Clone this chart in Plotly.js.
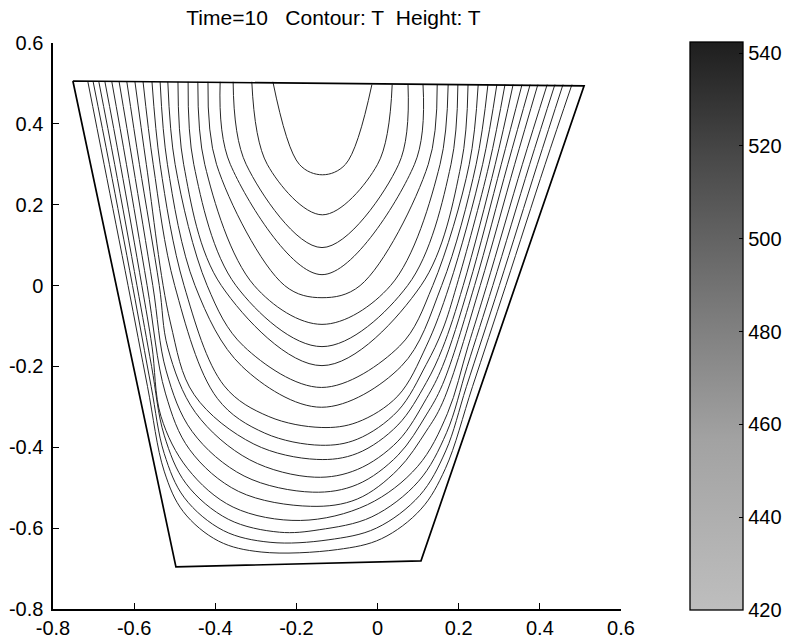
<!DOCTYPE html>
<html>
<head>
<meta charset="utf-8">
<script src="https://cdn.plot.ly/plotly-3.0.1.min.js"></script>
<style>html,body{margin:0;padding:0;background:#fff;}#chart{width:788px;height:643px;}</style>
</head>
<body>
<div id="chart"></div>
<script>
// Domain boundary (trapezoid)
const domainX = [-0.751, 0.509, 0.107, -0.497, -0.751];
const domainY = [0.506, 0.494, -0.681, -0.696, 0.506];

// Contour lines of T (20 levels), each read from the picture as a list of points
// running from the top-left crossing, round the bottom, to the top-right crossing.
const contourX = [
  [-0.258,-0.193,-0.136,-0.079,-0.014],
  [-0.310,-0.272,-0.136,0.000,0.036],
  [-0.356,-0.324,-0.137,0.052,0.075],
  [-0.388,-0.363,-0.137,0.091,0.112],
  [-0.418,-0.397,-0.229,-0.137,-0.043,0.125,0.147],
  [-0.443,-0.426,-0.304,-0.137,0.032,0.154,0.174],
  [-0.467,-0.453,-0.349,-0.137,0.074,0.181,0.198],
  [-0.492,-0.478,-0.385,-0.137,0.107,0.206,0.223],
  [-0.517,-0.499,-0.420,-0.330,-0.138,0.054,0.136,0.226,0.248],
  [-0.536,-0.518,-0.450,-0.334,-0.138,0.058,0.158,0.243,0.272],
  [-0.556,-0.536,-0.477,-0.378,-0.268,-0.139,-0.050,0.050,0.120,0.177,0.259,0.294],
  [-0.578,-0.553,-0.500,-0.395,-0.278,-0.140,-0.050,0.050,0.120,0.160,0.195,0.275,0.314],
  [-0.598,-0.570,-0.511,-0.452,-0.305,-0.150,-0.050,0.050,0.120,0.160,0.211,0.290,0.334],
  [-0.618,-0.587,-0.538,-0.517,-0.449,-0.315,-0.155,-0.050,0.050,0.120,0.160,0.225,0.305,0.356],
  [-0.637,-0.603,-0.554,-0.521,-0.457,-0.329,-0.160,-0.050,0.050,0.120,0.160,0.239,0.321,0.376],
  [-0.655,-0.619,-0.568,-0.523,-0.463,-0.343,-0.165,-0.050,0.050,0.120,0.160,0.253,0.338,0.395],
  [-0.672,-0.634,-0.581,-0.556,-0.534,-0.468,-0.356,-0.190,-0.025,0.099,0.172,0.223,0.269,0.357,0.418],
  [-0.687,-0.648,-0.593,-0.557,-0.526,-0.472,-0.368,-0.242,-0.144,-0.014,0.101,0.170,0.221,0.284,0.375,0.437],
  [-0.701,-0.661,-0.604,-0.558,-0.526,-0.476,-0.380,-0.265,-0.122,-0.003,0.104,0.168,0.219,0.300,0.394,0.457],
  [-0.714,-0.674,-0.615,-0.567,-0.526,-0.479,-0.392,-0.287,-0.099,0.010,0.107,0.167,0.234,0.316,0.413,0.479]
];
const contourY = [
  [0.504,0.3,0.274,0.3,0.497],
  [0.504,0.3,0.175,0.3,0.497],
  [0.504,0.3,0.094,0.3,0.497],
  [0.504,0.3,0.027,0.3,0.497],
  [0.504,0.3,0.0,-0.030,0.0,0.3,0.497],
  [0.504,0.3,0.0,-0.096,0.0,0.3,0.497],
  [0.504,0.3,0.0,-0.151,0.0,0.3,0.497],
  [0.504,0.3,0.0,-0.198,0.0,0.3,0.497],
  [0.504,0.3,0.0,-0.15,-0.252,-0.15,0.0,0.3,0.497],
  [0.504,0.3,0.0,-0.2,-0.301,-0.2,0.0,0.3,0.497],
  [0.504,0.3,0.0,-0.248,-0.324,-0.351,-0.338,-0.273,-0.15,0.0,0.3,0.497],
  [0.504,0.3,0.0,-0.279,-0.365,-0.395,-0.380,-0.310,-0.195,-0.11,0.0,0.3,0.497],
  [0.504,0.3,-0.09,-0.27,-0.392,-0.430,-0.415,-0.345,-0.24,-0.155,0.0,0.3,0.497],
  [0.504,0.3,0.0,-0.154,-0.314,-0.431,-0.474,-0.455,-0.385,-0.28,-0.2,0.0,0.3,0.497],
  [0.504,0.3,0.0,-0.211,-0.361,-0.471,-0.511,-0.492,-0.42,-0.32,-0.245,0.0,0.3,0.497],
  [0.504,0.3,0.0,-0.266,-0.406,-0.509,-0.546,-0.528,-0.455,-0.36,-0.29,0.0,0.3,0.497],
  [0.504,0.3,0.0,-0.15,-0.323,-0.453,-0.548,-0.581,-0.542,-0.447,-0.317,-0.15,0.0,0.3,0.497],
  [0.504,0.3,0.0,-0.2,-0.37,-0.49,-0.578,-0.610,-0.604,-0.572,-0.484,-0.364,-0.2,0.0,0.3,0.497],
  [0.504,0.3,0.0,-0.25,-0.415,-0.525,-0.606,-0.635,-0.629,-0.600,-0.519,-0.409,-0.25,0.0,0.3,0.497],
  [0.504,0.3,0.0,-0.25,-0.459,-0.559,-0.632,-0.659,-0.653,-0.626,-0.553,-0.453,-0.25,0.0,0.3,0.497]
];

// Colour bar
const cbMin = 420, cbMax = 542.4;
const cbTicks = [420, 440, 460, 480, 500, 520, 540];
const axisTicks = [-0.8, -0.6, -0.4, -0.2, 0, 0.2, 0.4, 0.6];
const axisTickText = ['-0.8', '-0.6', '-0.4', '-0.2', '0', '0.2', '0.4', '0.6'];

const traces = [];
for (let k = 0; k < contourX.length; k++) {
  traces.push({
    type: 'scatter', mode: 'lines', x: contourX[k], y: contourY[k],
    line: {color: '#262626', width: 1, shape: 'spline', smoothing: 1},
    hoverinfo: 'skip', showlegend: false
  });
}
traces.push({
  type: 'scatter', mode: 'lines', x: domainX, y: domainY,
  line: {color: '#000', width: 1.7}, hoverinfo: 'skip', showlegend: false
});
traces.push({
  type: 'scatter', mode: 'markers', x: [-0.13, -0.13], y: [0.5, 0.5],
  marker: {
    size: 1, opacity: 0, color: [cbMin, cbMax], cmin: cbMin, cmax: cbMax,
    colorscale: [[0, '#bebebe'], [0.3, '#a2a2a2'], [0.55, '#767676'], [0.8, '#484848'], [1, '#1e1e1e']],
    showscale: true,
    colorbar: {
      x: 690 / 788, xanchor: 'left', xref: 'container',
      y: 0.5, yanchor: 'middle', yref: 'paper', len: 1.004, lenmode: 'fraction',
      thickness: 53, thicknessmode: 'pixels',
      outlinecolor: '#000', outlinewidth: 1.3,
      tickmode: 'array', tickvals: cbTicks, ticktext: cbTicks.map(String),
      ticks: 'inside', ticklen: 4, tickcolor: '#000',
      tickfont: {family: 'Liberation Sans, Arial, sans-serif', size: 20, color: '#000'},
      xpad: 0, ypad: 0, bgcolor: 'rgba(0,0,0,0)'
    }
  },
  hoverinfo: 'skip', showlegend: false
});

const fontFam = 'Liberation Sans, Arial, sans-serif';
const axisCommon = {
  range: [-0.8, 0.6], tickmode: 'array', tickvals: axisTicks, ticktext: axisTickText,
  ticks: 'inside', ticklen: 6, tickcolor: '#000', tickwidth: 1.2,
  showline: true, linecolor: '#000', linewidth: 1.6, mirror: false,
  showgrid: false, zeroline: false, automargin: false,
  tickfont: {family: fontFam, size: 20, color: '#000'}
};
const layout = {
  width: 788, height: 643,
  margin: {l: 53, r: 167, t: 43, b: 34, pad: 0, autoexpand: false},
  paper_bgcolor: '#fff', plot_bgcolor: '#fff',
  showlegend: false,
  title: {
    text: 'Time=10\u00a0\u00a0\u00a0Contour: T\u00a0\u00a0Height: T',
    font: {family: fontFam, size: 21, color: '#000'},
    x: 0.4938, xref: 'paper', xanchor: 'center',
    y: 1 - 18 / 643, yref: 'container', yanchor: 'middle'
  },
  xaxis: Object.assign({}, axisCommon),
  yaxis: Object.assign({}, axisCommon, {ticklabelstandoff: 4})
};

Plotly.newPlot('chart', traces, layout, {staticPlot: true, displayModeBar: false});
</script>
</body>
</html>
